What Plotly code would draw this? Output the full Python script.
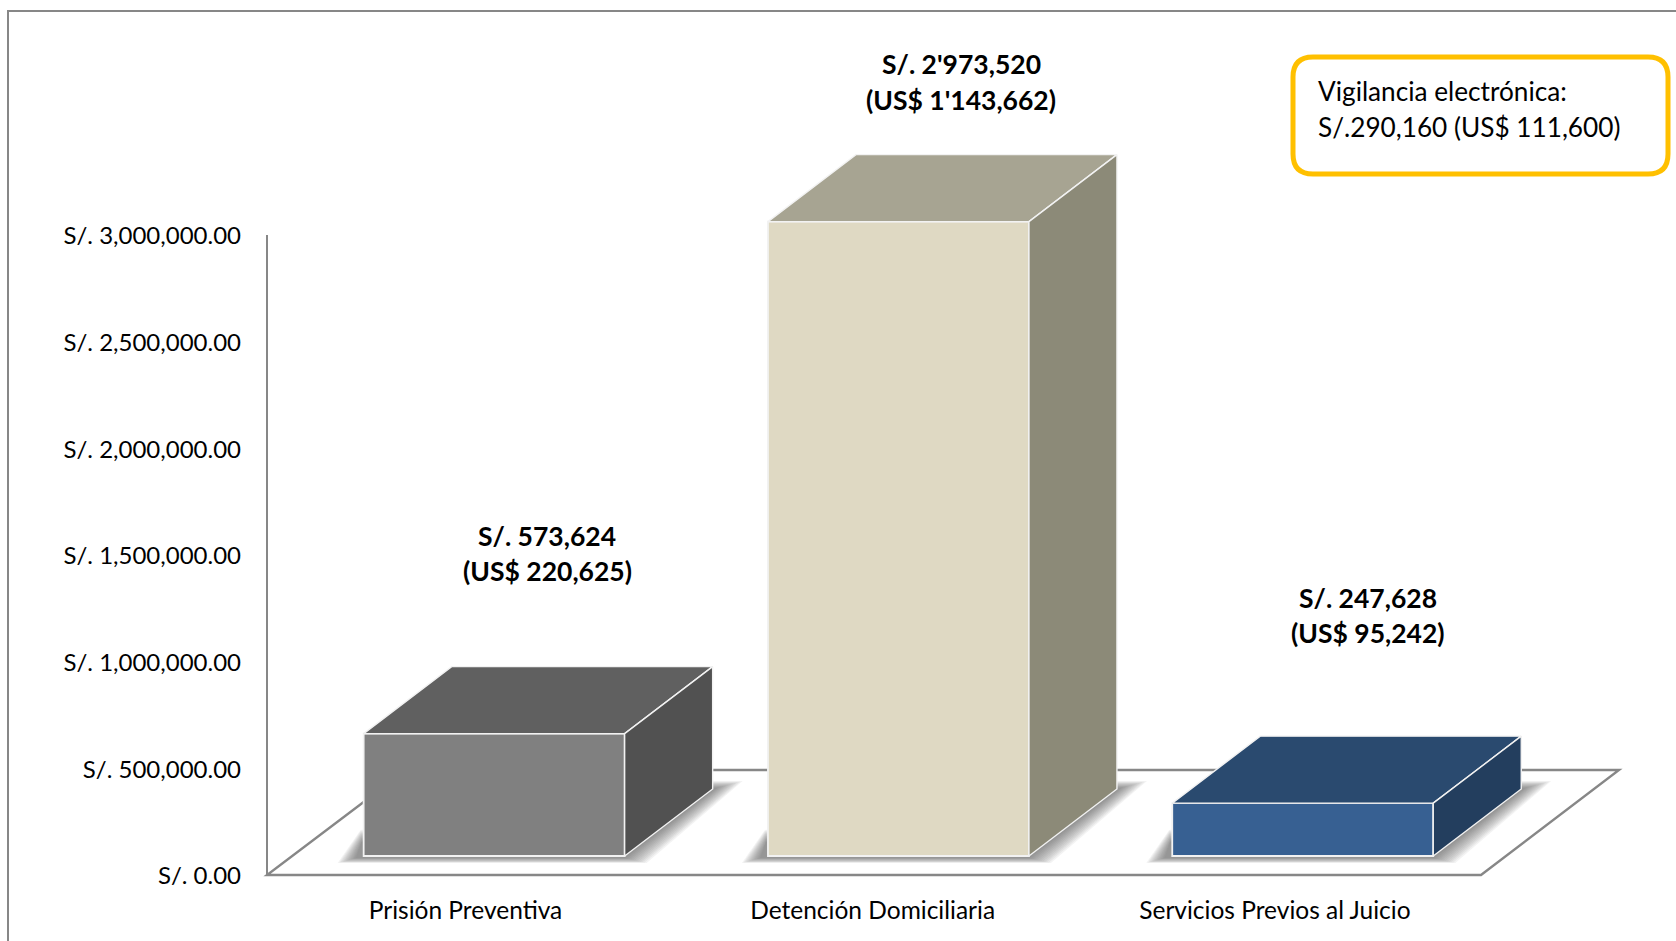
import plotly.graph_objects as go

# ---- data ----
categories = ["Prisión Preventiva", "Detención Domiciliaria", "Servicios Previos al Juicio"]
values_sol = [573624, 2973520, 247628]
labels_sol = ["S/. 573,624", "S/. 2'973,520", "S/. 247,628"]
labels_usd = ["(US$ 220,625)", "(US$ 1'143,662)", "(US$ 95,242)"]
tick_values = [0, 500000, 1000000, 1500000, 2000000, 2500000, 3000000]
tick_labels = ["S/. 0.00", "S/. 500,000.00", "S/. 1,000,000.00", "S/. 1,500,000.00",
               "S/. 2,000,000.00", "S/. 2,500,000.00", "S/. 3,000,000.00"]
callout_lines = ["Vigilancia electrónica:", "S/.290,160 (US$ 111,600)"]

# ---- styling ----
front_colors = ["#808080", "#DFD9C3", "#376092"]
top_colors = ["#606060", "#A7A492", "#2A4A6F"]
side_colors = ["#515151", "#8C8A78", "#233E5E"]
FONT = "Lato, Carlito, Calibri, sans-serif"
GREY = "#878787"
W, H = 1676, 941
LEFT, FLOOR_BOTTOM = 267, 875
PAD = 10              # plot area reaches a little past the axes so their lines are not clipped
SLOT = 404.3          # pixels per category
UNIT = 213.33 / 1e6   # pixels per sol


def X(px):
    return (px - LEFT) / SLOT - 0.5


def Y(py):
    return (FLOOR_BOTTOM - py) / UNIT


def PX(px):
    return (px - (LEFT - PAD)) / (W - (LEFT - PAD))


def PY(py):
    return (FLOOR_BOTTOM + PAD - py) / (FLOOR_BOTTOM + PAD)


def poly(points):
    return "M " + " L ".join(f"{x},{y}" for x, y in points) + " Z"


BAR_OFFSET = 25 / SLOT
BAR_WIDTH = 261 / SLOT
BASE = 19 / UNIT      # bars stand forward of the axis origin on the floor
DX = 88 / SLOT
DY = 67 / UNIT

shapes = []
# chart frame (runs off the right and bottom of the page)
shapes.append(dict(type="path", xref="paper", yref="paper",
                   path=f"M {PX(8)},{PY(H + 5)} L {PX(8)},{PY(11)} L {PX(W + 5)},{PY(11)}",
                   line=dict(color=GREY, width=2), layer="below"))
# floor
shapes.append(dict(type="path", xref="x", yref="y",
                   path=poly([(X(267), Y(875)), (X(1481), Y(875)), (X(1619), Y(770)), (X(406), Y(770))]),
                   line=dict(color=GREY, width=2.4), fillcolor="white", layer="below"))
# value axis
shapes.append(dict(type="line", xref="x", yref="y", x0=X(267), x1=X(267), y0=0, y1=3000000,
                   line=dict(color=GREY, width=2), layer="below"))

# soft shadows on the floor: stacked translucent layers from the outer edge to the inner edge
SHADOW_LAYERS = 12
SHADOW_OUTER = [(-26, 7), (22, 7), (118, -75), (84, -75), (-3, -26)]
SHADOW_INNER = [(-8, 2), (1, 2), (92, -68), (84, -68), (-2, -14)]
SHADOW_FROM_RIGHT = [False, True, True, True, False]
sx, sy = 1 / SLOT, 1 / UNIT
for i in range(len(values_sol)):
    xc = i + BAR_OFFSET
    L = xc - BAR_WIDTH / 2
    R = xc + BAR_WIDTH / 2
    for k in range(SHADOW_LAYERS):
        t = k / (SHADOW_LAYERS - 1)
        pts = []
        for (ox, oy), (ix, iy), from_right in zip(SHADOW_OUTER, SHADOW_INNER, SHADOW_FROM_RIGHT):
            dx = ox + (ix - ox) * t
            dy = oy + (iy - oy) * t
            pts.append(((R if from_right else L) + dx * sx, BASE - dy * sy))
        shapes.append(dict(type="path", xref="x", yref="y", path=poly(pts),
                           fillcolor="rgba(70,70,70,0.065)", line=dict(width=0), layer="below"))

# callout box
x0, x1, y0, y1, r = PX(1293), PX(1668), PY(57), PY(174), 20
rx, ry = r / (W - LEFT + PAD), r / (FLOOR_BOTTOM + PAD)
shapes.append(dict(type="path", xref="paper", yref="paper",
                   path=(f"M {x0 + rx},{y0} L {x1 - rx},{y0} Q {x1},{y0} {x1},{y0 - ry} "
                         f"L {x1},{y1 + ry} Q {x1},{y1} {x1 - rx},{y1} "
                         f"L {x0 + rx},{y1} Q {x0},{y1} {x0},{y1 + ry} "
                         f"L {x0},{y0 - ry} Q {x0},{y0} {x0 + rx},{y0} Z"),
                   line=dict(color="#FFC000", width=5), fillcolor="white", layer="above"))

fig = go.Figure()
EDGE = "#F2F2F2"
positions = [i + BAR_OFFSET for i in range(len(values_sol))]

fig.add_trace(go.Bar(x=positions, y=values_sol, base=[BASE] * 3, width=BAR_WIDTH,
                     marker=dict(color=front_colors, line=dict(color=EDGE, width=1.8)),
                     showlegend=False, hoverinfo="skip"))

for pos, val, top_c, side_c in zip(positions, values_sol, top_colors, side_colors):
    L, R = pos - BAR_WIDTH / 2, pos + BAR_WIDTH / 2
    T = BASE + val
    fig.add_trace(go.Scatter(x=[L, R, R + DX, L + DX, L], y=[T, T, T + DY, T + DY, T],
                             mode="lines", fill="toself", fillcolor=top_c,
                             line=dict(color=EDGE, width=1.4),
                             showlegend=False, hoverinfo="skip"))
    fig.add_trace(go.Scatter(x=[R, R + DX, R + DX, R, R], y=[BASE, BASE + DY, T + DY, T, BASE],
                             mode="lines", fill="toself", fillcolor=side_c,
                             line=dict(color=EDGE, width=1.4),
                             showlegend=False, hoverinfo="skip"))

annotations = []
# label centres (px), placed by hand in the source chart
label_x = [547, 961, 1368]
line1_y = [535.5, 64.5, 598]
line2_y = [571.5, 100.5, 633]
for i in range(3):
    for text, ypx in ((labels_sol[i], line1_y[i]), (labels_usd[i], line2_y[i])):
        annotations.append(dict(xref="paper", yref="paper", x=PX(label_x[i]), y=PY(ypx),
                                text=f"<b>{text}</b>", showarrow=False, xanchor="center", yanchor="middle",
                                font=dict(family=FONT, size=26.5, color="black")))
for text, ypx in zip(callout_lines, (91, 127)):
    annotations.append(dict(xref="paper", yref="paper", x=PX(1315.5), y=PY(ypx), text=text,
                            showarrow=False, xanchor="left", yanchor="middle",
                            font=dict(family=FONT, size=26.2, color="black")))

fig.update_layout(
    width=W, height=H,
    margin=dict(l=LEFT - PAD, r=0, t=0, b=H - FLOOR_BOTTOM - PAD, pad=0),
    paper_bgcolor="white", plot_bgcolor="white",
    showlegend=False, shapes=shapes, annotations=annotations,
    font=dict(family=FONT, size=24, color="black"),
    xaxis=dict(range=[X(LEFT - PAD), X(W)], tickmode="array", tickvals=[-0.009, 0.998, 1.993], ticktext=categories,
               showgrid=False, zeroline=False, showline=False, ticks="", tickangle=0,
               ticklabelstandoff=8, tickfont=dict(family=FONT, size=24.5, color="black")),
    yaxis=dict(range=[Y(FLOOR_BOTTOM + PAD), Y(0)], tickmode="array", tickvals=tick_values, ticktext=tick_labels,
               showgrid=False, zeroline=False, showline=False, ticks="",
               ticklabelstandoff=15, ticklabelshift=1, tickfont=dict(family=FONT, size=24, color="black")),
)

fig.write_html("out.html", config={"displayModeBar": False},
               post_script="document.body.style.margin='0';document.documentElement.style.overflow='hidden';")
